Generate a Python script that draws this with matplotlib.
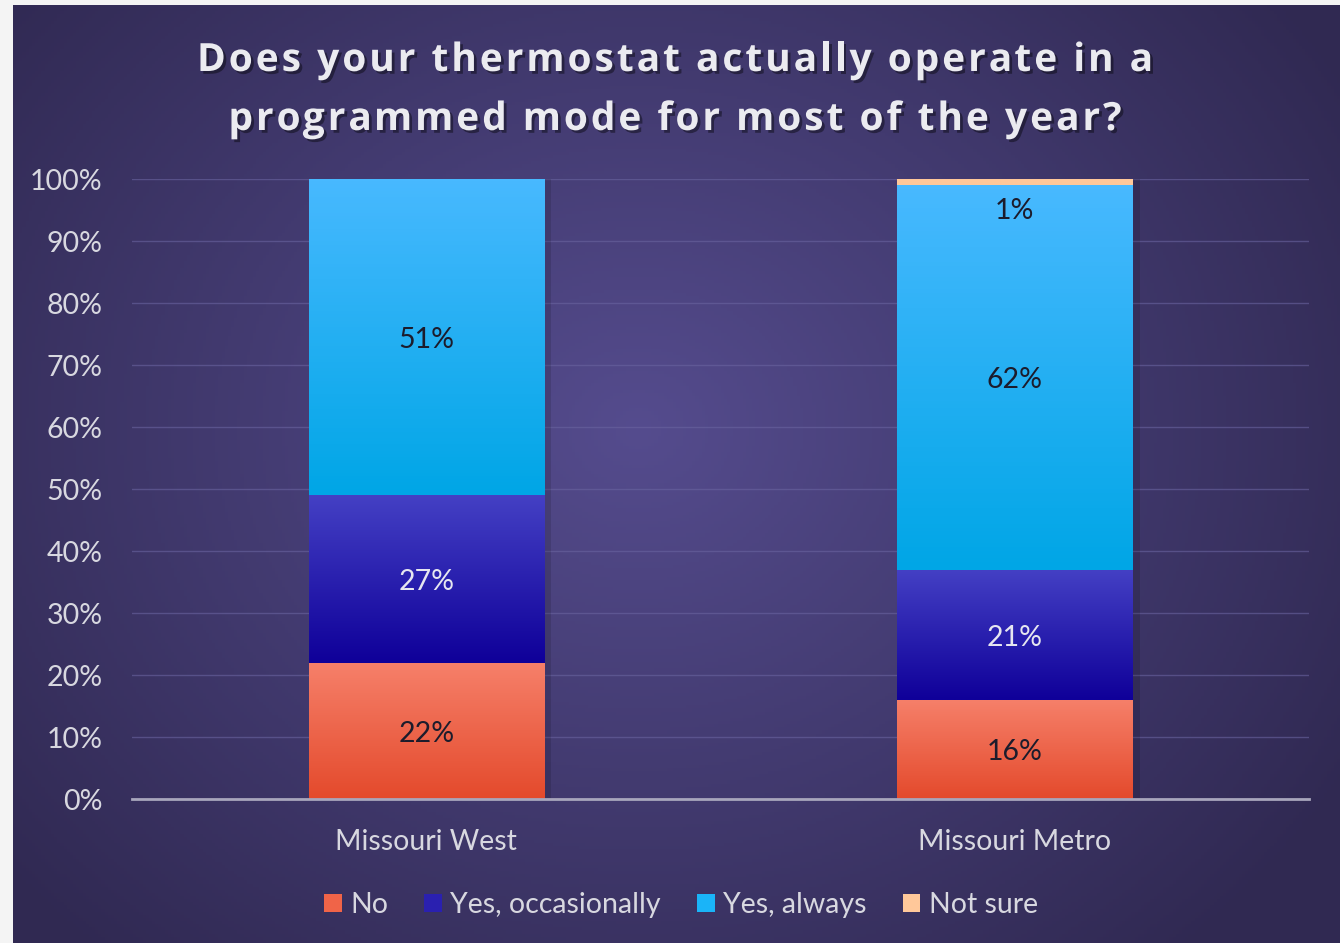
import numpy as np
import matplotlib
matplotlib.use("Agg")
import matplotlib.pyplot as plt
from matplotlib.patches import Patch
import matplotlib.patheffects as pe
from matplotlib.colors import to_rgb

categories = ["Missouri West", "Missouri Metro"]
series_names = ["No", "Yes, occasionally", "Yes, always", "Not sure"]
no_vals = [22, 16]
occ_vals = [27, 21]
always_vals = [51, 62]
notsure_vals = [0, 1]
yticks = [0, 10, 20, 30, 40, 50, 60, 70, 80, 90, 100]
ytick_labels = [f"{v}%" for v in yticks]
title_lines = ["Does your thermostat actually operate in a", "programmed mode for most of the year?"]

series = [no_vals, occ_vals, always_vals, notsure_vals]
grad_cols = [("#f6806a", "#e44a2c"), ("#4440c4", "#0f0099"), ("#48b9ff", "#00a6e6"), ("#ffc89a", "#ffc89a")]
legend_cols = ["#f06448", "#2a20b0", "#1ab4f8", "#ffc89a"]
label_cols = ["#1c1c2c", "#e6e6f0", "#1c1c2c", "#1c1c2c"]

FONT = ["Lato", "DejaVu Sans"]
plt.rcParams['font.family'] = FONT

W, H = 1340, 943
fig = plt.figure(figsize=(W / 100, H / 100), dpi=100, facecolor="#f4f4f4")

# background with radial gradient
bg = fig.add_axes([13 / W, 0, 1 - 13 / W, 1 - 5 / H])
bg.set_axis_off()
ny, nx = 300, 420
yy, xx = np.mgrid[0:ny, 0:nx]
cx, cy = nx * 0.47, ny * 0.45
r = np.sqrt(((xx - cx) / (nx * 0.62)) ** 2 + ((yy - cy) / (ny * 0.75)) ** 2)
r = np.clip(r, 0, 1)
inner = np.array(to_rgb("#554c8e"))
outer = np.array(to_rgb("#302952"))
img = inner[None, None, :] * (1 - r[..., None]) + outer[None, None, :] * r[..., None]
bg.imshow(img, aspect="auto", extent=[0, 1, 0, 1], origin="upper")
bg.set_xlim(0, 1)
bg.set_ylim(0, 1)

ax = fig.add_axes([132 / W, (H - 799) / H, (1309 - 132) / W, (799 - 179) / H])
ax.patch.set_alpha(0)
x = np.arange(len(categories))
width = 0.40
ax.set_xlim(-0.5, 1.5)
ax.set_ylim(0, 100)

bottoms = np.zeros(len(categories))
for si, vals in enumerate(series):
    vals = np.array(vals, dtype=float)
    bars = ax.bar(x, vals, width, bottom=bottoms, color=legend_cols[si], zorder=3, linewidth=0)
    top_c = np.array(to_rgb(grad_cols[si][0]))
    bot_c = np.array(to_rgb(grad_cols[si][1]))
    t = np.linspace(0, 1, 100)[:, None]
    g = top_c[None, :] * (1 - t) + bot_c[None, :] * t
    g = g[:, None, :]
    for bi, b in enumerate(bars):
        if vals[bi] <= 0:
            continue
        x0 = b.get_x()
        y0 = b.get_y()
        im = ax.imshow(g, aspect="auto", extent=[x0, x0 + b.get_width(), y0, y0 + b.get_height()],
                       origin="upper", zorder=3.5)
        im.set_clip_path(b)
        ax.add_patch(plt.Rectangle((x0 + b.get_width(), y0), 0.012, b.get_height(),
                                   color="black", alpha=0.12, zorder=2.5, linewidth=0))
    bottoms = bottoms + vals

# data labels
bottoms = np.zeros(len(categories))
for si, vals in enumerate(series):
    for bi, v in enumerate(vals):
        if v <= 0:
            continue
        yc = bottoms[bi] + v / 2
        if si == 3:
            yc = bottoms[bi] - 3.7
        ax.text(x[bi], yc - 0.5, f"{v}%", ha="center", va="center", fontsize=20.5,
                color=label_cols[si], zorder=5)
    bottoms = bottoms + np.array(vals)

ax.set_yticks(yticks)
ax.set_yticklabels(ytick_labels)
ax.set_xticks(x)
ax.set_xticklabels(categories)
ax.tick_params(axis="y", length=0, pad=21, labelsize=20.5, labelcolor="#d8d8e0")
ax.tick_params(axis="x", length=0, pad=21.5, labelsize=20.5, labelcolor="#d8d8e0")
ax.grid(axis="y", color="#6a64a0", linewidth=1.0, alpha=0.6, zorder=0)
for s in ["top", "right", "left"]:
    ax.spines[s].set_visible(False)
ax.spines["bottom"].set_color("#a8a6bc")
ax.spines["bottom"].set_linewidth(2)
ax.spines["bottom"].set_zorder(6)

# title with letter spacing, drawn char by char
renderer = fig.canvas.get_renderer()
tfont = dict(fontsize=28, fontweight="bold", family=["Open Sans", "DejaVu Sans"])
probe = fig.text(0, 0, "", **tfont)

def str_width(s):
    if not s:
        return 0.0
    probe.set_text(s.replace(" ", "\u00a0"))
    return probe.get_window_extent(renderer).width

target_w1 = 956.0
plain_w1 = str_width(title_lines[0])
spacing = (target_w1 - plain_w1) / (len(title_lines[0]) - 1)
baselines = [H - 71, H - 130]
center_x = 675
shadow = [pe.withSimplePatchShadow(offset=(2, -2), shadow_rgbFace="black", alpha=0.4)]
for line, by in zip(title_lines, baselines):
    total = str_width(line) + spacing * (len(line) - 1)
    x_start = center_x - total / 2
    for i, ch in enumerate(line):
        if ch == " ":
            continue
        px = x_start + str_width(line[:i]) + spacing * i
        fig.text(px / W, by / H, ch, ha="left", va="baseline", color="#ebebf0",
                 path_effects=shadow, **tfont)
probe.set_text("")

handles = [Patch(facecolor=c, edgecolor="none") for c in legend_cols]
leg = fig.legend(handles, series_names, loc="center", bbox_to_anchor=(681 / W, 1 - 905 / H), ncol=4,
                 frameon=False, fontsize=20.5, handlelength=0.62, handleheight=0.62, handletextpad=0.3,
                 columnspacing=1.26, labelcolor="#d8d8e0")

fig.savefig("out.png", dpi=100, facecolor=fig.get_facecolor())
